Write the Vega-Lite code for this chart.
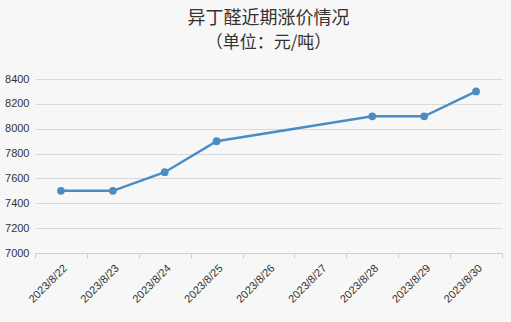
{
  "$schema": "https://vega.github.io/schema/vega-lite/v6.json",
  "width": 511,
  "height": 322,
  "autosize": {"type": "fit", "contains": "padding"},
  "padding": {"left": 4, "right": 8, "top": 10, "bottom": 17},
  "background": "#f7f7f7",
  "title": {
    "text": "异丁醛近期涨价情况",
    "subtitle": "（单位：元/吨）",
    "font": "Noto Sans CJK SC",
    "subtitleFont": "Noto Sans CJK SC",
    "fontSize": 18,
    "subtitleFontSize": 17,
    "fontWeight": "normal",
    "color": "#333333",
    "subtitleColor": "#333333",
    "subtitlePadding": 7,
    "anchor": "middle",
    "offset": 22
  },
  "config": {"view": {"stroke": null}},
  "data": {
    "values": [
      {"date": "2023/8/22", "price": 7500},
      {"date": "2023/8/23", "price": 7500},
      {"date": "2023/8/24", "price": 7650},
      {"date": "2023/8/25", "price": 7900},
      {"date": "2023/8/28", "price": 8100},
      {"date": "2023/8/29", "price": 8100},
      {"date": "2023/8/30", "price": 8300}
    ]
  },
  "encoding": {
    "x": {
      "field": "date",
      "type": "ordinal",
      "sort": null,
      "scale": {
        "type": "band",
        "paddingInner": 0,
        "paddingOuter": 0,
        "domain": ["2023/8/22", "2023/8/23", "2023/8/24", "2023/8/25", "2023/8/26", "2023/8/27", "2023/8/28", "2023/8/29", "2023/8/30"]
      },
      "bandPosition": 0.5,
      "axis": {
        "title": null,
        "labelAngle": -45,
        "labelFontSize": 11,
        "labelColor": "#333333",
        "labelFont": "Liberation Sans",
        "domainColor": "#d0d0d0",
        "tickColor": "#d0d0d0",
        "tickBand": "extent",
        "tickSize": 5,
        "grid": false,
        "labelPadding": 4
      }
    },
    "y": {
      "field": "price",
      "type": "quantitative",
      "scale": {"domain": [7000, 8400], "zero": false, "nice": false},
      "axis": {
        "title": null,
        "format": "d",
        "values": [7000, 7200, 7400, 7600, 7800, 8000, 8200, 8400],
        "labelFontSize": 11,
        "labelColor": "#333333",
        "labelFont": "Liberation Sans",
        "domain": false,
        "ticks": false,
        "gridColor": "#d9d9d9",
        "labelPadding": 6
      }
    }
  },
  "layer": [
    {"mark": {"type": "line", "color": "#4a8cc4", "strokeWidth": 2.5}},
    {"mark": {"type": "point", "filled": true, "color": "#4a8cc4", "size": 60, "opacity": 1}}
  ]
}
